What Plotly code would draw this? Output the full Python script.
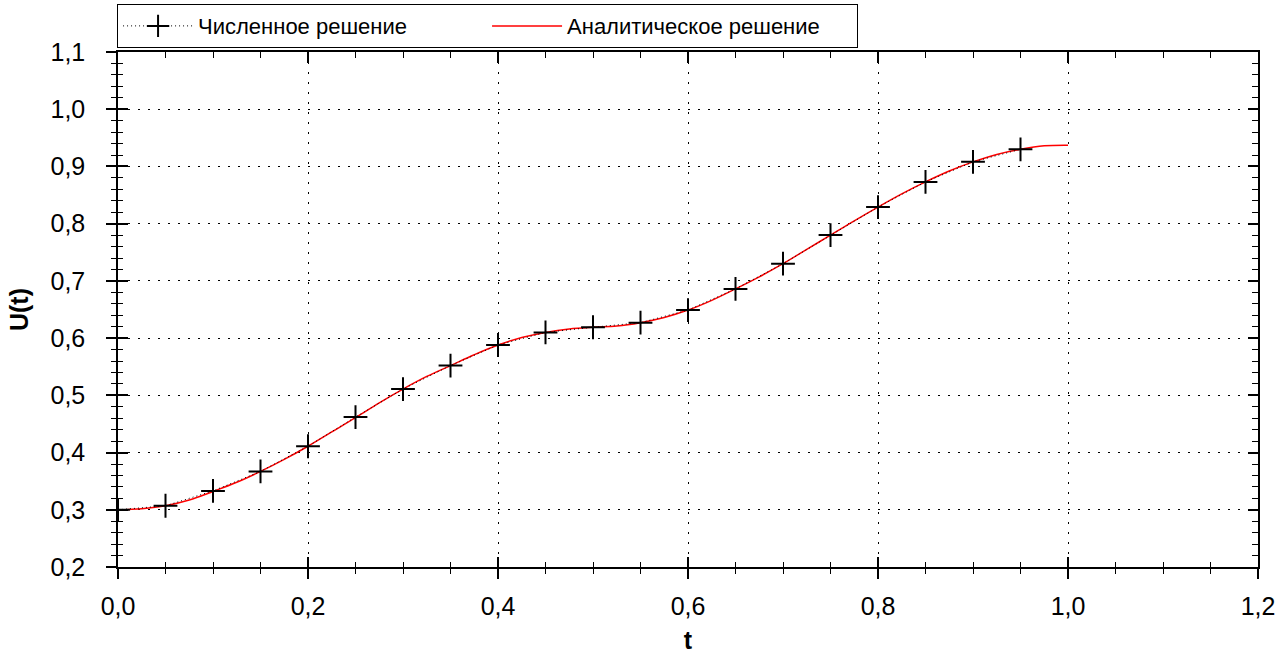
import plotly.graph_objects as go

# Numerical solution (markers)
t_num = [0.00, 0.05, 0.10, 0.15, 0.20, 0.25, 0.30, 0.35, 0.40, 0.45,
         0.50, 0.55, 0.60, 0.65, 0.70, 0.75, 0.80, 0.85, 0.90, 0.95]
u_num = [0.300, 0.307, 0.333, 0.367, 0.411, 0.462, 0.511, 0.552, 0.588, 0.610,
         0.619, 0.627, 0.649, 0.686, 0.730, 0.780, 0.829, 0.873, 0.908, 0.930]

# Analytic solution
t_an = [0.000, 0.025, 0.050, 0.075, 0.100, 0.125, 0.150, 0.175, 0.200, 0.225,
        0.250, 0.275, 0.300, 0.325, 0.350, 0.375, 0.400, 0.425, 0.450, 0.475,
        0.500, 0.525, 0.550, 0.575, 0.600, 0.625, 0.650, 0.675, 0.700, 0.725,
        0.750, 0.775, 0.800, 0.825, 0.850, 0.875, 0.900, 0.925, 0.950, 0.975, 1.000]
u_an = [0.300, 0.302, 0.307, 0.317, 0.332, 0.348, 0.367, 0.388, 0.411, 0.436,
        0.461, 0.487, 0.511, 0.533, 0.552, 0.571, 0.588, 0.601, 0.610, 0.616,
        0.619, 0.621, 0.627, 0.636, 0.649, 0.666, 0.686, 0.707, 0.730, 0.755,
        0.780, 0.805, 0.829, 0.852, 0.873, 0.892, 0.908, 0.921, 0.930, 0.936, 0.937]

name_num = "Численное решение"
name_an = "Аналитическое решение"
x_title = "t"
y_title = "U(t)"

FONT = "Liberation Sans, Arial, sans-serif"

fig = go.Figure()
fig.add_trace(go.Scatter(
    x=t_an, y=u_an, mode="lines", name=name_an,
    line=dict(color="#ff0000", width=1.5, shape="spline"),
))
fig.add_trace(go.Scatter(
    x=t_num, y=u_num, mode="lines+markers", name=name_num,
    line=dict(color="black", width=1, dash="1px,3px"),
    marker=dict(symbol="cross-thin", size=17, line=dict(color="black", width=2)),
))
# invisible carriers so the overlay (frame / crossing-tick) axes get drawn
for xa, ya in (("x2", "y2"), ("x3", "y3")):
    fig.add_trace(go.Scatter(
        x=t_num, y=u_num, xaxis=xa, yaxis=ya, mode="markers",
        marker=dict(opacity=0), showlegend=False, hoverinfo="skip",
    ))

xr = [0, 1.2]
yr = [0.2, 1.1]
GRID_DASH = "2px,8px"

common = dict(showline=True, linecolor="black", linewidth=1.5, zeroline=False,
              automargin=False, fixedrange=True)

def minor_ticks(step, kind, length):
    return dict(dtick=step, ticks=kind, ticklen=length, tickwidth=1.2, tickcolor="black")

fig.update_layout(
    width=1288, height=654,
    margin=dict(l=118, r=30, t=52, b=87, autoexpand=False),
    paper_bgcolor="white", plot_bgcolor="white",
    separators=", ",
    font=dict(family=FONT, color="black"),
    showlegend=True,
    legend=dict(
        orientation="h", x=-0.001, y=1.008, xanchor="left", yanchor="bottom",
        bordercolor="black", borderwidth=1.2, bgcolor="white",
        font=dict(size=22, family=FONT), traceorder="reversed",
        entrywidth=284, itemwidth=70,
    ),
    xaxis=dict(
        range=xr, dtick=0.2, tick0=0, tickformat=".1f",
        ticks="outside", ticklen=10, tickwidth=1.5, tickcolor="black",
        minor=minor_ticks(0.05, "outside", 5),
        showgrid=True, gridcolor="black", griddash=GRID_DASH, gridwidth=1,
        tickfont=dict(size=25), ticklabelstandoff=6,
        title=dict(text="<b>" + x_title + "</b>", font=dict(size=25), standoff=18),
        **common,
    ),
    yaxis=dict(
        range=yr, dtick=0.1, tick0=0.2, tickformat=".1f",
        ticks="outside", ticklen=10, tickwidth=1.5, tickcolor="black",
        minor=minor_ticks(0.02, "outside", 5),
        showgrid=True, gridcolor="black", griddash=GRID_DASH, gridwidth=1,
        tickfont=dict(size=25), ticklabelstandoff=16,
        title=dict(text="<b>" + y_title + "</b>", font=dict(size=25), standoff=15),
        **common,
    ),
    # inner halves of the crossing ticks on the bottom/left axes
    xaxis2=dict(
        range=xr, overlaying="x", side="bottom", anchor="y2", dtick=0.2, tick0=0,
        ticks="inside", ticklen=10, tickwidth=1.5, tickcolor="black",
        minor=minor_ticks(0.05, "inside", 5),
        showticklabels=False, showgrid=False, **common,
    ),
    yaxis2=dict(
        range=yr, overlaying="y", side="left", anchor="x2", dtick=0.1, tick0=0.2,
        ticks="inside", ticklen=10, tickwidth=1.5, tickcolor="black",
        minor=minor_ticks(0.02, "inside", 5),
        showticklabels=False, showgrid=False, **common,
    ),
    # top/right frame with inside ticks
    xaxis3=dict(
        range=xr, overlaying="x", side="top", anchor="y3", dtick=0.2, tick0=0,
        ticks="inside", ticklen=11, tickwidth=1.5, tickcolor="black",
        minor=minor_ticks(0.05, "inside", 6),
        showticklabels=False, showgrid=False, **common,
    ),
    yaxis3=dict(
        range=yr, overlaying="y", side="right", anchor="x3", dtick=0.1, tick0=0.2,
        ticks="inside", ticklen=10, tickwidth=1.5, tickcolor="black",
        minor=minor_ticks(0.02, "inside", 6),
        showticklabels=False, showgrid=False, **common,
    ),
)

fig.write_html("out.html", config={"displayModeBar": False},
               post_script="document.body.style.margin='0';")
